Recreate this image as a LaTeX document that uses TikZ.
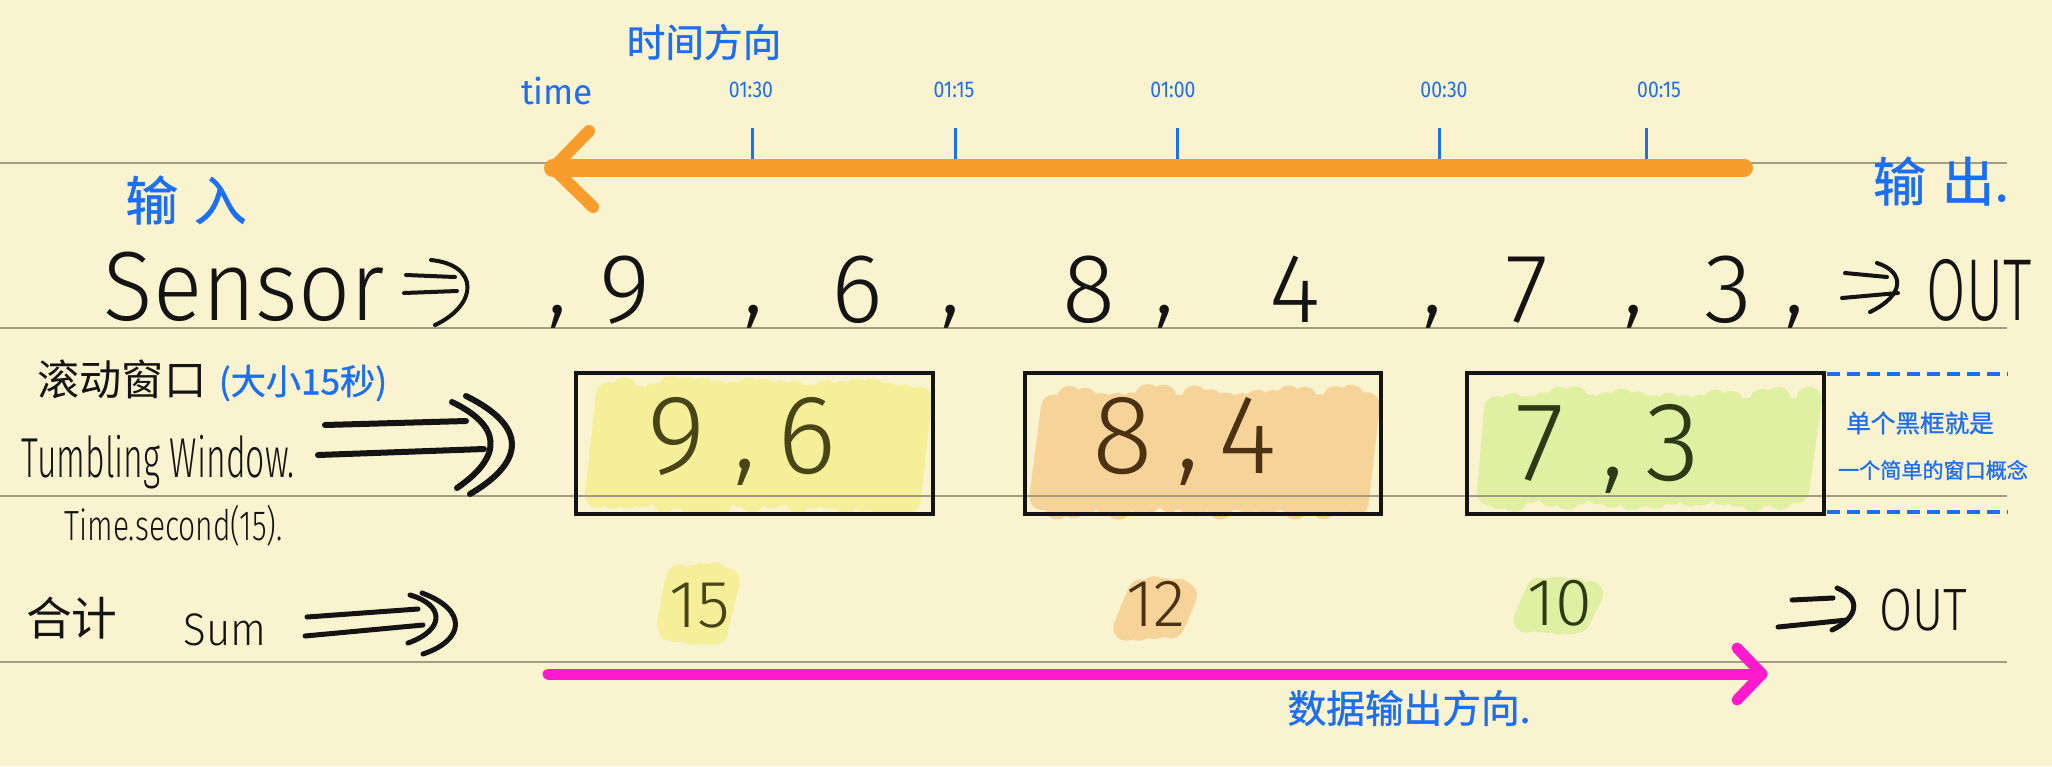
\documentclass[tikz,border=0pt]{standalone}
\usepackage{fontspec}
\usepackage{graphicx}
\setmainfont{Fira Sans Light}
\newfontfamily\bluefont{Fira Sans}
\newfontfamily\cjk{Noto Sans CJK SC}
\newfontfamily\cjkb{Noto Sans CJK SC}[FakeBold=1]

\definecolor{paper}{HTML}{FAF3D0}
\definecolor{rulegray}{HTML}{A39D85}
\definecolor{inkblack}{HTML}{141414}
\definecolor{inkblue}{HTML}{1C6EF2}
\definecolor{timeorange}{HTML}{F89C2C}
\definecolor{outpink}{HTML}{FF1ACD}
\definecolor{hlyellow}{HTML}{F4EF98}
\definecolor{hlorange}{HTML}{F6D398}
\definecolor{hlgreen}{HTML}{DFF0A2}
\definecolor{digyellow}{HTML}{4A4518}
\definecolor{digorange}{HTML}{4A3212}
\definecolor{diggreen}{HTML}{2E3A16}

\newcommand{\fs}[1]{\fontsize{#1}{#1}\selectfont}

% highlighter scribble: colour, x1, x2, y1, y2
\newcommand{\hilite}[5]{%
  \pgfmathsetmacro{\hlw}{(#3-#2-40)/20}
  \foreach \k in {0,...,20}{%
    \pgfmathsetmacro{\hlx}{#2+13+\k*\hlw}
    \draw[#1, line width=0.26cm, line cap=round]
      ({\hlx+8*rnd},{#5-13-10*rnd}) -- ({\hlx+14},{#4+13+12*rnd});
  }}

\tikzset{
  ruling/.style={draw=rulegray, line width=0.02cm},
  ink/.style={draw=inkblack, line width=0.05cm, line cap=round, line join=round},
  winbox/.style={draw=inkblack, line width=0.04cm},
  hand/.style={inner sep=0pt, text=inkblack},
  bluehand/.style={inner sep=0pt, text=inkblue},
  tickmark/.style={draw=inkblue, line width=0.03cm},
  timebar/.style={draw=timeorange, line width=0.18cm, line cap=round, line join=round},
  outbar/.style={draw=outpink, line width=0.11cm, line cap=round, line join=round},
  bluedash/.style={draw=inkblue, line width=0.04cm, dash pattern=on 0.13cm off 0.07cm},
}

\begin{document}
\begin{tikzpicture}[x=0.01cm, y=-0.01cm]
  % 纸面
  \useasboundingbox (0,0) rectangle (2052,766);
  \fill[paper] (0,0) rectangle (2052,766);

  % 荧光笔涂色
  \pgfmathsetseed{11}
  \hilite{hlyellow}{582}{932}{375}{515}
  \hilite{hlorange}{1027}{1380}{383}{520}
  \hilite{hlgreen}{1470}{1822}{386}{512}
  \hilite{hlyellow}{650}{740}{562}{645}
  \hilite{hlorange}{1112}{1197}{576}{641}
  \hilite{hlgreen}{1512}{1603}{576}{635}

  % 横线
  \foreach \ry in {163,328,496,662}
    \draw[ruling] (0,\ry) -- (2007,\ry);

  % 时间轴
  \node[bluehand, font=\cjkb\fs{11}] (tdir) at (704,42) {时间方向};
  \node[bluehand, font=\bluefont\fs{10}] (time) at (557,91) {time};
  \foreach \tx/\lx/\lab in {752/751/01:30, 955/954/01:15, 1177/1173/01:00, 1439/1444/00:30, 1646/1659/00:15} {
    \draw[tickmark] (\tx,128) -- (\tx,159);
    \node[bluehand, font=\bluefont\fs{6.5}] (lab\tx) at (\lx,90) {\scalebox{.85}[1]{\lab}};
  }
  \coordinate (tstart) at (1744,168);
  \coordinate (ttip) at (553,168);
  \draw[timebar] (tstart) -- (ttip);
  \draw[timebar, line width=0.12cm] (ttip) ++(36,-37) -- (ttip) -- ++(40,39);

  \node[bluehand, font=\cjkb\fs{15}] (inlab) at (186,200) {输\hspace{.3em}入};
  \node[bluehand, font=\cjkb\fs{15}] (outlab) at (1941,181) {输\hspace{.3em}出.};

  % Sensor 行
  \node[hand, font=\fs{28}, anchor=base west] (sensor) at (103,320) {\scalebox{.93}[1]{Sensor}};
  \draw[ink, line width=0.04cm] (406,275) -- (455,277);
  \draw[ink, line width=0.04cm] (404,293) -- (457,291);
  \draw[ink, line width=0.04cm] (431,260) .. controls (480,265) and (478,305) .. (435,325);
  \foreach \cx in {558,754,951,1165,1433,1634,1795}
    \node[hand, font=\fs{28}, anchor=base] (cm\cx) at (\cx,313) {,};
  \foreach \dx/\dv in {625/9, 857/6, 1089/8, 1295/4, 1527/7, 1728/3}
    \node[hand, font=\fs{28}, anchor=base] (sv\dv) at (\dx,322) {\dv};
  \draw[ink, line width=0.04cm] (1845,273) -- (1887,277);
  \draw[ink, line width=0.04cm] (1842,298) -- (1898,293);
  \draw[ink, line width=0.04cm] (1877,263) .. controls (1905,272) and (1905,295) .. (1870,312);
  \node[hand, font=\fs{25}, anchor=base] (sout) at (1979,320) {\scalebox{.65}[1]{OUT}};

  % 滚动窗口
  \node[hand, font=\cjk\fs{12}] (twcn) at (122,379) {滚动窗口};
  \node[bluehand, font=\cjkb\fs{10}] (twsize) at (303,383) {(大小15秒)};
  \node[hand, font=\fs{16}, anchor=base west] (twname) at (21,477) {\scalebox{.6}[1]{Tumbling Window.}};
  \node[hand, font=\fs{12}, anchor=base west] (twcode) at (64,540) {\scalebox{.71}[1]{Time.second(15).}};
  \draw[ink, line width=0.06cm] (325,425) -- (466,421);
  \draw[ink, line width=0.06cm] (318,455) -- (484,449);
  \draw[ink, line width=0.06cm] (452,402) .. controls (500,425) and (505,455) .. (457,488);
  \draw[ink, line width=0.06cm] (466,396) .. controls (525,425) and (528,460) .. (470,494);

  \draw[winbox] (576,373) rectangle (933,514);
  \draw[winbox] (1025,373) rectangle (1381,514);
  \draw[winbox] (1467,373) rectangle (1824,514);
  \foreach \wx/\wv/\wc/\wy in {677/9/digyellow/473, 745/{,}/digyellow/468, 807/6/digyellow/473,
      1123/8/digorange/473, 1188/{,}/digorange/468, 1248/4/digorange/473,
      1540/7/diggreen/480, 1613/{,}/diggreen/476, 1673/3/diggreen/480}
    \node[hand, text=\wc, font=\fs{32}, anchor=base] (w\wx) at (\wx,\wy) {\wv};

  \draw[bluedash] (1827,374) -- (2008,374);
  \draw[bluedash] (1827,512) -- (2008,512);
  \node[bluehand, font=\cjkb\fs{7}] (note1) at (1920,423) {单个黑框就是};
  \node[bluehand, font=\cjkb\fs{6}] (note2) at (1933,470) {一个简单的窗口概念};

  % 合计
  \node[hand, font=\cjk\fs{13}] (sumcn) at (72,618) {合计};
  \node[hand, font=\fs{13}, anchor=base west] (sumen) at (183,645) {\scalebox{.92}[1]{Sum}};
  \draw[ink] (307,617) -- (418,609);
  \draw[ink] (305,636) -- (423,625);
  \draw[ink] (410,595) .. controls (445,605) and (445,630) .. (408,643);
  \draw[ink] (422,593) .. controls (468,610) and (465,640) .. (423,654);
  \node[hand, text=digyellow, font=\fs{19}, anchor=base] (sum1) at (700,627) {15};
  \node[hand, text=digorange, font=\fs{19}, anchor=base] (sum2) at (1156,626) {12};
  \node[hand, text=diggreen, font=\fs{19}, anchor=base] (sum3) at (1560,625) {10};
  \draw[ink] (1792,600) -- (1833,598);
  \draw[ink] (1778,627) -- (1847,620);
  \draw[ink] (1837,588) .. controls (1862,598) and (1858,618) .. (1832,630);
  \node[hand, font=\fs{17}, anchor=base] (oout) at (1923,630) {\scalebox{.8}[1]{OUT}};

  % 输出方向
  \coordinate (ostart) at (548,674);
  \coordinate (otip) at (1762,674);
  \draw[outbar] (ostart) -- (otip);
  \draw[outbar] (otip) ++(-25,-26) -- (otip) -- ++(-25,26);
  \node[bluehand, font=\cjkb\fs{11}] (odir) at (1409,708) {数据输出方向.};
\end{tikzpicture}
\end{document}
